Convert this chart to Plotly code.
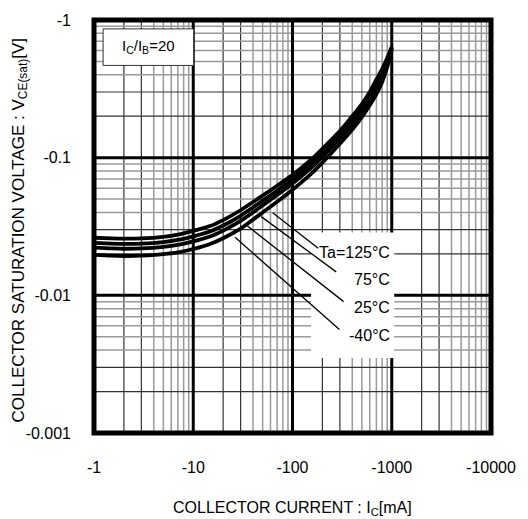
import numpy as np
import plotly.graph_objects as go

# ---- data ----
current_ma = [1, 1.5, 2, 3, 5, 7, 10, 15, 20, 30, 50, 70, 100, 150, 200, 300, 400, 500, 600, 700, 800, 900, 1000]
vce_125 = [0.0262, 0.0259, 0.0258, 0.0259, 0.0266, 0.0276, 0.0294, 0.0320, 0.0352, 0.0415, 0.0530, 0.0625,
           0.0750, 0.0950, 0.1160, 0.1560, 0.2000, 0.2450, 0.3000, 0.3700, 0.4400, 0.5300, 0.640]
vce_75 = [0.02405, 0.02375, 0.02365, 0.02375, 0.02438, 0.02525, 0.02684, 0.02924, 0.03214, 0.03784, 0.04871,
          0.05767, 0.06961, 0.08849, 0.1082, 0.1463, 0.1871, 0.2295, 0.2806, 0.3439, 0.4125, 0.5063, 0.6308]
vce_25 = [0.02221, 0.02190, 0.02180, 0.02190, 0.02248, 0.02323, 0.02465, 0.02688, 0.02953, 0.03471, 0.04502,
          0.05349, 0.06493, 0.08283, 0.1014, 0.1378, 0.1757, 0.2159, 0.2636, 0.3212, 0.3885, 0.4851, 0.6224]
vce_m40 = [0.0197, 0.0194, 0.0193, 0.0194, 0.0199, 0.0205, 0.0217, 0.0237, 0.0260, 0.0305, 0.0400, 0.0478,
           0.0585, 0.0750, 0.0920, 0.1260, 0.1600, 0.1970, 0.2400, 0.2900, 0.3550, 0.4550, 0.610]

temp_labels = ["Ta=125°C", "75°C", "25°C", "-40°C"]
leader_start_x = [63.1, 48.4, 33.7, 26.4]
leader_start_y = [0.0398, 0.0373, 0.0327, 0.0264]
leader_end_x = [181.6, 275.5, 327.6, 297.0]
leader_end_y = [0.0220, 0.0148, 0.0090, 0.00564]
label_x = [1000, 1000, 1000, 1000]
label_y = [0.02055, 0.01294, 0.00815, 0.00513]

x_tickvals = [1, 10, 100, 1000, 10000]
x_ticktext = ["-1", "-10", "-100", "-1000", "-10000"]
y_tickvals = [0.001, 0.01, 0.1, 1]
y_ticktext = ["-0.001", "-0.01", "-0.1", "-1"]

ratio_text = "I<sub>C</sub>/I<sub>B</sub>=20"

FONT = "Liberation Sans, Arial, sans-serif"

fig = go.Figure()

# ---- grid as shapes (below traces) ----
def vline(x, color, width):
    fig.add_shape(type="line", xref="x", yref="paper", x0=x, x1=x, y0=0, y1=1,
                  line=dict(color=color, width=width), layer="below")

def hline(y, color, width):
    fig.add_shape(type="line", xref="paper", yref="y", x0=0, x1=1, y0=y, y1=y,
                  line=dict(color=color, width=width), layer="below")

for d in [1, 10, 100, 1000]:
    for m in range(2, 10):
        if m <= 3:
            vline(d * m, "#333333", 1.2)
        else:
            vline(d * m, "#9a9a9a", 1.5)
for d in [0.001, 0.01, 0.1]:
    for m in range(2, 10):
        if m <= 3:
            hline(d * m, "#333333", 1.2)
        else:
            hline(d * m, "#9a9a9a", 1.5)
for x in [10, 100, 1000]:
    vline(x, "black", 3)
for y in [0.01, 0.1]:
    hline(y, "black", 3)

# white boxes covering the grid
fig.add_shape(type="rect", xref="x", yref="y", x0=153.8, x1=1059, y0=0.00351, y1=0.0286,
              fillcolor="white", line=dict(width=0), layer="below")
fig.add_shape(type="rect", xref="x", yref="y", x0=1.235, x1=10.1, y0=0.4677, y1=0.862,
              fillcolor="white", line=dict(color="#333333", width=1), layer="below")

# ---- curves ----
for vals in [vce_125, vce_75, vce_25, vce_m40]:
    fig.add_trace(go.Scatter(x=current_ma, y=vals, mode="lines",
                             line=dict(color="black", width=3.8, shape="spline", smoothing=0.6),
                             showlegend=False, hoverinfo="skip"))

# leader lines
for i in range(4):
    fig.add_trace(go.Scatter(x=[leader_start_x[i], leader_end_x[i]],
                             y=[leader_start_y[i], leader_end_y[i]], mode="lines",
                             line=dict(color="black", width=1.3),
                             showlegend=False, hoverinfo="skip"))

# frame
fig.add_shape(type="rect", xref="paper", yref="paper", x0=0, x1=1, y0=0, y1=1,
              line=dict(color="black", width=5), layer="above")

# labels
for i in range(4):
    fig.add_annotation(x=np.log10(label_x[i]), y=np.log10(label_y[i]), xref="x", yref="y",
                       text=temp_labels[i], showarrow=False, xanchor="right", yanchor="middle",
                       font=dict(family=FONT, size=16, color="black"))
fig.add_annotation(x=np.log10(3.56), y=np.log10(0.64), xref="x", yref="y",
                   text=ratio_text, showarrow=False, xanchor="center", yanchor="middle",
                   font=dict(family=FONT, size=15, color="black"))

# axis titles
fig.add_annotation(x=0.5, y=0, xref="paper", yref="paper", yshift=-75,
                   text="COLLECTOR CURRENT : I<sub>C</sub>[mA]", showarrow=False,
                   xanchor="center", yanchor="middle",
                   font=dict(family=FONT, size=16, color="black"))
fig.add_annotation(x=0, y=0.5, xref="paper", yref="paper", xshift=-75, yshift=-4,
                   text="COLLECTOR SATURATION VOLTAGE : V<sub>CE(sat)</sub>[V]", showarrow=False,
                   textangle=-90, xanchor="center", yanchor="middle",
                   font=dict(family=FONT, size=17, color="black"))

fig.update_layout(
    width=528, height=519,
    margin=dict(l=94, r=28, t=15, b=86),
    paper_bgcolor="white", plot_bgcolor="white",
    font=dict(family=FONT, size=16, color="black"),
    xaxis=dict(type="log", range=[0, 4], showgrid=False, zeroline=False,
               tickvals=x_tickvals, ticktext=x_ticktext, ticks="", showline=False,
               ticklabelstandoff=23, tickfont=dict(size=16)),
    yaxis=dict(type="log", range=[-3, 0], showgrid=False, zeroline=False,
               tickvals=y_tickvals, ticktext=y_ticktext, ticks="", showline=False,
               ticklabelstandoff=22, tickfont=dict(size=16)),
)

fig.write_html("out.html")
